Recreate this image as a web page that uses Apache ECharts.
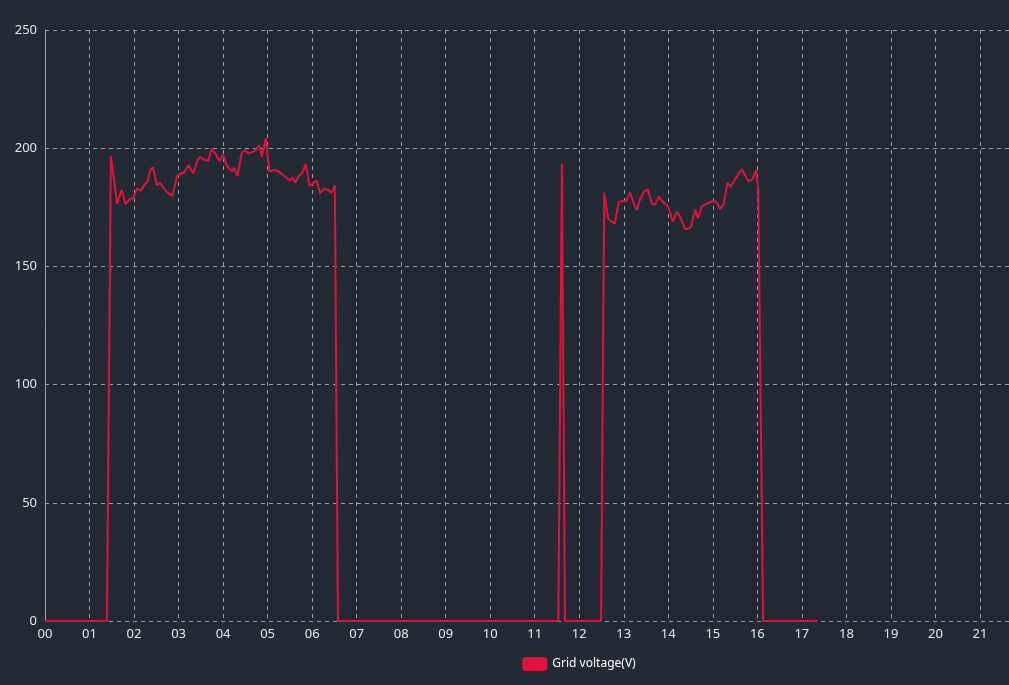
<!DOCTYPE html>
<html>
<head>
<meta charset="utf-8">
<script src="https://cdn.jsdelivr.net/npm/echarts@6/dist/echarts.min.js"></script>
<style>
html,body{margin:0;padding:0;overflow:hidden;background:#232a34;width:1009px;height:685px;}
#c{width:1158px;height:685px;}
</style>
</head>
<body>
<div id="c"></div>
<script>
// time of day in hours
var hours = [
  0, 1.39, 1.48, 1.62, 1.72, 1.81, 1.91, 1.98, 2.07, 2.15,
  2.25, 2.30, 2.37, 2.43, 2.51, 2.58, 2.67, 2.77, 2.86, 2.97,
  3.05, 3.12, 3.22, 3.33, 3.41, 3.48, 3.59, 3.67, 3.74, 3.82,
  3.92, 4.00, 4.09, 4.21, 4.25, 4.32, 4.42, 4.49, 4.57, 4.68,
  4.75, 4.81, 4.87, 4.96, 5.04, 5.13, 5.22, 5.32, 5.41, 5.50,
  5.56, 5.62, 5.70, 5.77, 5.86, 5.94, 6.01, 6.10, 6.18, 6.27,
  6.36, 6.44, 6.51, 6.58, 11.53, 11.61, 11.68, 12.49, 12.56, 12.65,
  12.73, 12.80, 12.89, 12.97, 13.05, 13.14, 13.21, 13.29, 13.36, 13.45,
  13.54, 13.63, 13.70, 13.79, 13.87, 14.00, 14.10, 14.19, 14.26, 14.38,
  14.47, 14.52, 14.60, 14.67, 14.75, 14.86, 15.01, 15.09, 15.16, 15.24,
  15.33, 15.40, 15.50, 15.57, 15.65, 15.72, 15.81, 15.90, 15.97, 16.02,
  16.13, 17.35
];
// grid voltage (V)
var volts = [
  0, 0, 196.7, 176.4, 182.3, 176.4, 178.5, 178.8, 183.0, 182.0,
  184.9, 185.8, 191.1, 191.9, 184.4, 185.2, 183.0, 180.9, 179.8, 188.2,
  189.3, 189.6, 192.9, 189.3, 194.3, 196.4, 195.0, 194.7, 199.7, 197.9,
  194.7, 197.1, 192.2, 190.1, 191.8, 188.2, 198.1, 199.2, 197.8, 198.5,
  199.5, 201.4, 196.4, 204.2, 190.1, 190.8, 190.5, 189.1, 187.7, 186.3,
  187.7, 185.4, 188.2, 189.3, 193.3, 184.0, 185.1, 186.3, 180.9, 183.0,
  182.3, 181.1, 184.4, 0, 0, 193.3, 0, 0, 181.3, 170.2,
  168.9, 168.2, 177.4, 177.7, 177.4, 181.2, 177.4, 173.9, 178.1, 181.6,
  182.6, 176.7, 176.0, 179.5, 177.4, 175.3, 168.9, 173.2, 171.1, 165.7,
  166.1, 167.1, 174.2, 170.4, 175.3, 176.4, 177.8, 177.0, 174.3, 176.0,
  185.4, 183.7, 186.8, 188.9, 191.2, 188.7, 185.8, 187.2, 190.8, 182.3,
  0, 0
];
var seriesName = 'Grid voltage(V)';
var yTicks = [0, 50, 100, 150, 200, 250];

var data = hours.map(function (h, i) { return [h, volts[i]]; });
var chart = echarts.init(document.getElementById('c'), null, {renderer: 'canvas'});
var splitStyle = {type: [4, 4], color: 'rgba(190,196,204,0.75)', width: 1};
chart.setOption({
  backgroundColor: '#232a34',
  animation: false,
  textStyle: {fontFamily: 'Noto Sans, sans-serif'},
  grid: {left: 45, right: 44.5, top: 30, bottom: 64, containLabel: false},
  legend: {
    bottom: 9, left: 'center',
    icon: 'roundRect', itemWidth: 25, itemHeight: 14,
    textStyle: {color: '#ffffff', fontSize: 12},
    data: [seriesName]
  },
  xAxis: {
    type: 'value', min: 0, max: 24, interval: 1,
    axisLine: {show: false}, axisTick: {show: false},
    axisLabel: {color: '#e6e8ea', fontSize: 13, margin: 7,
      formatter: function (v) { return (v < 10 ? '0' : '') + v; }},
    splitLine: {show: true, lineStyle: splitStyle}
  },
  yAxis: {
    type: 'value', min: yTicks[0], max: yTicks[yTicks.length - 1], interval: 50,
    axisLine: {show: true, lineStyle: {color: '#9aa0a8', width: 1}},
    axisTick: {show: false},
    axisLabel: {color: '#e6e8ea', fontSize: 13, margin: 8},
    splitLine: {show: true, lineStyle: splitStyle}
  },
  series: [{
    name: seriesName, type: 'line', data: data,
    showSymbol: false, symbol: 'none',
    itemStyle: {color: '#dc143c'},
    lineStyle: {color: '#dc143c', width: 2}
  }]
});
</script>
</body>
</html>
